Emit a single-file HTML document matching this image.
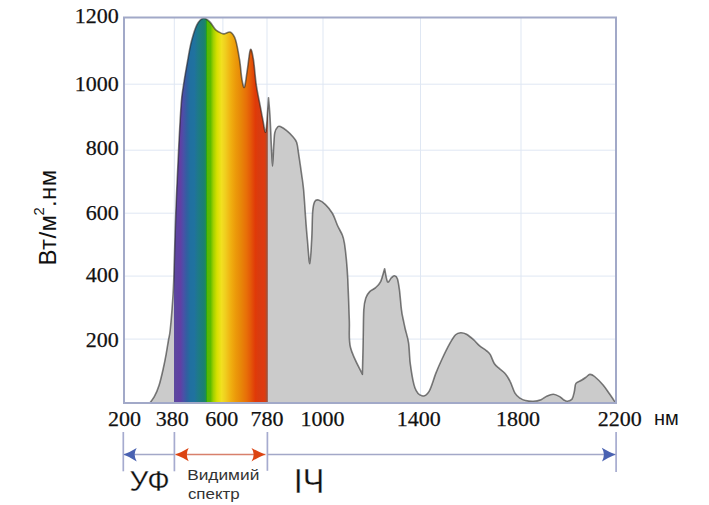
<!DOCTYPE html>
<html><head><meta charset="utf-8">
<style>
html,body{margin:0;padding:0;background:#fff;}
body{width:709px;height:505px;overflow:hidden;position:relative;}
svg{position:absolute;left:0;top:0;display:block;}
.serif{font-family:"Liberation Serif",serif;font-size:22px;fill:#111;stroke:#111;stroke-width:0.25px;}
.sans{font-family:"Liberation Sans",sans-serif;fill:#111;}
</style></head><body>
<svg width="709" height="505" viewBox="0 0 709 505">
<defs>
<linearGradient id="spec" x1="174" y1="0" x2="268" y2="0" gradientUnits="userSpaceOnUse"><stop offset="0.0000" stop-color="#5c4a9c"/><stop offset="0.0319" stop-color="#5e44a2"/><stop offset="0.0691" stop-color="#6040a4"/><stop offset="0.1011" stop-color="#4a50a8"/><stop offset="0.1383" stop-color="#3060a0"/><stop offset="0.1755" stop-color="#2070a0"/><stop offset="0.2160" stop-color="#2072a0"/><stop offset="0.2553" stop-color="#1e7a88"/><stop offset="0.3170" stop-color="#1a8070"/><stop offset="0.3383" stop-color="#208a58"/><stop offset="0.3447" stop-color="#20a020"/><stop offset="0.3553" stop-color="#58b800"/><stop offset="0.3883" stop-color="#5cbc00"/><stop offset="0.4181" stop-color="#a0d000"/><stop offset="0.4574" stop-color="#d8e000"/><stop offset="0.5053" stop-color="#f2e020"/><stop offset="0.5426" stop-color="#f0d020"/><stop offset="0.6032" stop-color="#f0b010"/><stop offset="0.6553" stop-color="#ec9a0a"/><stop offset="0.7085" stop-color="#e88808"/><stop offset="0.7681" stop-color="#e87008"/><stop offset="0.8128" stop-color="#e45a08"/><stop offset="0.8660" stop-color="#e03a08"/><stop offset="0.9032" stop-color="#d83c10"/><stop offset="0.9479" stop-color="#e03a10"/><stop offset="0.9691" stop-color="#d84010"/><stop offset="0.9840" stop-color="#b04a30"/><stop offset="1.0000" stop-color="#a07868"/></linearGradient>
<clipPath id="clipspec"><rect x="174" y="0" width="94" height="404"/></clipPath>

</defs>
<g stroke="#dfe7f3" stroke-width="1" fill="none"><line x1="174.3" y1="17.5" x2="174.3" y2="403" /><line x1="222.9" y1="17.5" x2="222.9" y2="403" /><line x1="267.0" y1="17.5" x2="267.0" y2="403" /><line x1="323.0" y1="17.5" x2="323.0" y2="403" /><line x1="420.5" y1="17.5" x2="420.5" y2="403" /><line x1="521.0" y1="17.5" x2="521.0" y2="403" /><line x1="124" y1="84.2" x2="616" y2="84.2" /><line x1="124" y1="150.2" x2="616" y2="150.2" /><line x1="124" y1="213.2" x2="616" y2="213.2" /><line x1="124" y1="276.1" x2="616" y2="276.1" /><line x1="124" y1="339.1" x2="616" y2="339.1" /></g>
<path d="M149.5,403.3 C150.3,402.2 152.7,399.6 154.3,396.7 C155.9,393.8 157.6,390.1 159.0,385.6 C160.4,381.1 161.8,375.0 163.0,369.7 C164.2,364.4 165.3,358.8 166.2,353.8 C167.1,348.8 167.9,343.5 168.6,339.5 C169.3,335.5 169.5,336.6 170.2,330.0 C170.9,323.4 172.1,309.0 172.7,300.0 C173.3,291.0 173.4,290.5 173.9,276.0 C174.4,261.5 175.0,234.0 175.8,213.0 C176.6,192.0 177.7,168.2 178.6,150.0 C179.5,131.8 180.4,114.9 181.2,104.0 C182.0,93.1 182.5,92.1 183.6,84.5 C184.7,76.9 186.7,65.9 188.0,58.6 C189.3,51.3 190.1,46.4 191.6,40.8 C193.1,35.1 195.1,28.5 197.0,24.7 C198.9,20.9 201.2,18.7 203.3,18.2 C205.4,17.7 207.7,20.0 209.8,21.9 C211.9,23.8 213.7,27.9 215.7,29.8 C217.7,31.7 220.2,32.7 221.7,33.4 C223.2,34.1 223.2,34.0 224.7,33.8 C226.2,33.6 228.8,31.2 230.6,32.2 C232.4,33.2 234.0,35.2 235.5,39.7 C237.0,44.2 238.4,52.9 239.5,59.5 C240.6,66.1 241.1,74.7 241.9,79.3 C242.7,83.9 243.6,88.8 244.5,87.2 C245.4,85.6 246.4,75.7 247.4,69.4 C248.4,63.1 249.4,51.2 250.4,49.6 C251.4,48.0 252.4,53.6 253.4,59.5 C254.4,65.4 255.2,77.8 256.3,85.2 C257.4,92.6 258.7,98.1 259.8,103.8 C260.9,109.5 261.8,115.0 262.8,119.6 C263.8,124.2 264.9,135.2 265.9,131.6 C266.8,128.0 268.1,103.5 268.5,97.9 C268.7,100.7 269.4,107.0 269.9,114.8 C270.4,122.6 270.9,135.9 271.3,144.5 C271.7,153.1 272.1,166.3 272.5,166.3 C272.9,166.3 273.4,150.1 273.8,144.5 C274.2,138.9 274.1,135.6 274.8,132.6 C275.5,129.6 276.8,127.7 277.8,126.7 C278.8,125.7 279.3,126.1 280.8,126.7 C282.3,127.3 284.7,128.9 286.7,130.6 C288.7,132.2 291.0,134.6 292.7,136.6 C294.4,138.6 295.7,139.5 296.7,142.5 C297.7,145.5 297.9,149.1 298.7,154.4 C299.5,159.7 300.8,168.4 301.6,174.3 C302.4,180.2 302.9,182.2 303.6,189.7 C304.3,197.2 305.1,211.0 305.7,219.4 C306.3,227.8 306.7,232.6 307.4,240.0 C308.1,247.4 309.1,263.9 309.8,263.8 C310.5,263.7 311.2,247.9 311.7,239.2 C312.2,230.5 312.2,217.8 312.7,211.5 C313.2,205.2 313.7,203.5 314.7,201.6 C315.7,199.7 316.8,199.5 318.6,200.0 C320.4,200.5 323.2,202.3 325.5,204.6 C327.8,206.8 330.5,210.1 332.5,213.5 C334.5,216.9 335.8,221.7 337.4,225.3 C339.0,228.9 341.2,232.2 342.4,235.2 C343.6,238.2 343.7,239.1 344.4,243.2 C345.1,247.3 345.8,253.7 346.4,259.8 C347.0,265.9 347.3,269.6 347.8,279.6 C348.3,289.6 348.9,308.5 349.3,319.8 C349.8,331.1 348.3,338.4 350.5,347.5 C352.7,356.6 360.4,369.8 362.4,374.3 C362.5,368.5 363.0,350.4 363.2,339.6 C363.4,328.9 363.4,316.8 363.8,309.8 C364.2,302.9 364.8,300.9 365.8,297.9 C366.8,294.9 368.1,293.3 369.7,291.6 C371.3,289.9 373.8,289.2 375.6,287.6 C377.4,286.0 379.1,284.8 380.6,281.7 C382.1,278.6 383.9,270.9 384.6,268.8 C385.1,270.9 386.4,280.2 387.5,281.7 C388.6,283.2 390.3,278.7 391.5,277.7 C392.7,276.7 393.5,275.5 394.5,275.7 C395.5,275.9 396.6,276.4 397.4,278.7 C398.2,281.0 398.7,284.5 399.4,289.6 C400.1,294.7 400.8,304.3 401.4,309.4 C402.0,314.5 402.6,316.7 403.3,320.0 C404.0,323.3 404.4,325.3 405.3,329.2 C406.2,333.1 407.8,337.3 408.6,343.2 C409.5,349.1 409.3,357.2 410.4,364.6 C411.4,372.0 413.0,382.5 414.9,387.7 C416.8,392.9 419.6,395.2 422.0,395.8 C424.4,396.4 426.8,395.0 429.1,391.3 C431.4,387.6 433.7,378.7 435.8,373.4 C437.9,368.1 439.5,364.4 441.8,359.5 C444.1,354.6 447.4,347.8 449.7,343.7 C452.0,339.6 453.8,336.6 455.6,334.8 C457.4,333.0 458.8,332.9 460.6,332.8 C462.4,332.7 464.4,333.1 466.5,334.2 C468.6,335.3 471.4,337.8 473.5,339.7 C475.6,341.6 477.3,343.8 479.4,345.6 C481.5,347.4 484.5,349.1 486.3,350.6 C488.1,352.1 489.0,352.5 490.3,354.6 C491.6,356.8 492.8,361.2 494.3,363.5 C495.8,365.8 497.4,366.8 499.2,368.4 C501.0,370.0 503.3,371.2 505.1,373.4 C506.9,375.5 508.5,378.0 510.1,381.3 C511.8,384.6 513.4,390.4 515.0,393.2 C516.6,396.0 518.2,396.9 520.0,398.1 C521.8,399.3 523.3,400.0 525.5,400.5 C527.7,401.0 530.7,401.4 533.3,401.3 C535.9,401.2 538.7,400.6 541.0,399.7 C543.3,398.8 545.1,396.8 547.2,395.9 C549.3,395.0 551.3,394.2 553.4,394.3 C555.5,394.4 558.0,395.7 559.7,396.6 C561.4,397.5 562.2,398.9 563.5,399.7 C564.8,400.5 566.0,401.4 567.4,401.3 C568.8,401.2 570.9,400.7 572.1,399.0 C573.3,397.3 573.8,393.8 574.4,391.2 C575.0,388.6 574.7,385.2 575.9,383.4 C577.1,381.6 579.7,381.3 581.4,380.3 C583.1,379.3 584.6,378.2 586.0,377.2 C587.4,376.2 588.5,374.5 589.9,374.4 C591.3,374.3 592.4,374.7 594.6,376.5 C596.8,378.3 600.7,382.2 603.1,385.0 C605.5,387.8 607.2,390.5 609.3,393.5 C611.4,396.5 614.5,401.2 615.5,402.8 L615.5,403 L149.5,403 Z" fill="#cbcbcb" />
<path d="M149.5,403.3 C150.3,402.2 152.7,399.6 154.3,396.7 C155.9,393.8 157.6,390.1 159.0,385.6 C160.4,381.1 161.8,375.0 163.0,369.7 C164.2,364.4 165.3,358.8 166.2,353.8 C167.1,348.8 167.9,343.5 168.6,339.5 C169.3,335.5 169.5,336.6 170.2,330.0 C170.9,323.4 172.1,309.0 172.7,300.0 C173.3,291.0 173.4,290.5 173.9,276.0 C174.4,261.5 175.0,234.0 175.8,213.0 C176.6,192.0 177.7,168.2 178.6,150.0 C179.5,131.8 180.4,114.9 181.2,104.0 C182.0,93.1 182.5,92.1 183.6,84.5 C184.7,76.9 186.7,65.9 188.0,58.6 C189.3,51.3 190.1,46.4 191.6,40.8 C193.1,35.1 195.1,28.5 197.0,24.7 C198.9,20.9 201.2,18.7 203.3,18.2 C205.4,17.7 207.7,20.0 209.8,21.9 C211.9,23.8 213.7,27.9 215.7,29.8 C217.7,31.7 220.2,32.7 221.7,33.4 C223.2,34.1 223.2,34.0 224.7,33.8 C226.2,33.6 228.8,31.2 230.6,32.2 C232.4,33.2 234.0,35.2 235.5,39.7 C237.0,44.2 238.4,52.9 239.5,59.5 C240.6,66.1 241.1,74.7 241.9,79.3 C242.7,83.9 243.6,88.8 244.5,87.2 C245.4,85.6 246.4,75.7 247.4,69.4 C248.4,63.1 249.4,51.2 250.4,49.6 C251.4,48.0 252.4,53.6 253.4,59.5 C254.4,65.4 255.2,77.8 256.3,85.2 C257.4,92.6 258.7,98.1 259.8,103.8 C260.9,109.5 261.8,115.0 262.8,119.6 C263.8,124.2 264.9,135.2 265.9,131.6 C266.8,128.0 268.1,103.5 268.5,97.9 C268.7,100.7 269.4,107.0 269.9,114.8 C270.4,122.6 270.9,135.9 271.3,144.5 C271.7,153.1 272.1,166.3 272.5,166.3 C272.9,166.3 273.4,150.1 273.8,144.5 C274.2,138.9 274.1,135.6 274.8,132.6 C275.5,129.6 276.8,127.7 277.8,126.7 C278.8,125.7 279.3,126.1 280.8,126.7 C282.3,127.3 284.7,128.9 286.7,130.6 C288.7,132.2 291.0,134.6 292.7,136.6 C294.4,138.6 295.7,139.5 296.7,142.5 C297.7,145.5 297.9,149.1 298.7,154.4 C299.5,159.7 300.8,168.4 301.6,174.3 C302.4,180.2 302.9,182.2 303.6,189.7 C304.3,197.2 305.1,211.0 305.7,219.4 C306.3,227.8 306.7,232.6 307.4,240.0 C308.1,247.4 309.1,263.9 309.8,263.8 C310.5,263.7 311.2,247.9 311.7,239.2 C312.2,230.5 312.2,217.8 312.7,211.5 C313.2,205.2 313.7,203.5 314.7,201.6 C315.7,199.7 316.8,199.5 318.6,200.0 C320.4,200.5 323.2,202.3 325.5,204.6 C327.8,206.8 330.5,210.1 332.5,213.5 C334.5,216.9 335.8,221.7 337.4,225.3 C339.0,228.9 341.2,232.2 342.4,235.2 C343.6,238.2 343.7,239.1 344.4,243.2 C345.1,247.3 345.8,253.7 346.4,259.8 C347.0,265.9 347.3,269.6 347.8,279.6 C348.3,289.6 348.9,308.5 349.3,319.8 C349.8,331.1 348.3,338.4 350.5,347.5 C352.7,356.6 360.4,369.8 362.4,374.3 C362.5,368.5 363.0,350.4 363.2,339.6 C363.4,328.9 363.4,316.8 363.8,309.8 C364.2,302.9 364.8,300.9 365.8,297.9 C366.8,294.9 368.1,293.3 369.7,291.6 C371.3,289.9 373.8,289.2 375.6,287.6 C377.4,286.0 379.1,284.8 380.6,281.7 C382.1,278.6 383.9,270.9 384.6,268.8 C385.1,270.9 386.4,280.2 387.5,281.7 C388.6,283.2 390.3,278.7 391.5,277.7 C392.7,276.7 393.5,275.5 394.5,275.7 C395.5,275.9 396.6,276.4 397.4,278.7 C398.2,281.0 398.7,284.5 399.4,289.6 C400.1,294.7 400.8,304.3 401.4,309.4 C402.0,314.5 402.6,316.7 403.3,320.0 C404.0,323.3 404.4,325.3 405.3,329.2 C406.2,333.1 407.8,337.3 408.6,343.2 C409.5,349.1 409.3,357.2 410.4,364.6 C411.4,372.0 413.0,382.5 414.9,387.7 C416.8,392.9 419.6,395.2 422.0,395.8 C424.4,396.4 426.8,395.0 429.1,391.3 C431.4,387.6 433.7,378.7 435.8,373.4 C437.9,368.1 439.5,364.4 441.8,359.5 C444.1,354.6 447.4,347.8 449.7,343.7 C452.0,339.6 453.8,336.6 455.6,334.8 C457.4,333.0 458.8,332.9 460.6,332.8 C462.4,332.7 464.4,333.1 466.5,334.2 C468.6,335.3 471.4,337.8 473.5,339.7 C475.6,341.6 477.3,343.8 479.4,345.6 C481.5,347.4 484.5,349.1 486.3,350.6 C488.1,352.1 489.0,352.5 490.3,354.6 C491.6,356.8 492.8,361.2 494.3,363.5 C495.8,365.8 497.4,366.8 499.2,368.4 C501.0,370.0 503.3,371.2 505.1,373.4 C506.9,375.5 508.5,378.0 510.1,381.3 C511.8,384.6 513.4,390.4 515.0,393.2 C516.6,396.0 518.2,396.9 520.0,398.1 C521.8,399.3 523.3,400.0 525.5,400.5 C527.7,401.0 530.7,401.4 533.3,401.3 C535.9,401.2 538.7,400.6 541.0,399.7 C543.3,398.8 545.1,396.8 547.2,395.9 C549.3,395.0 551.3,394.2 553.4,394.3 C555.5,394.4 558.0,395.7 559.7,396.6 C561.4,397.5 562.2,398.9 563.5,399.7 C564.8,400.5 566.0,401.4 567.4,401.3 C568.8,401.2 570.9,400.7 572.1,399.0 C573.3,397.3 573.8,393.8 574.4,391.2 C575.0,388.6 574.7,385.2 575.9,383.4 C577.1,381.6 579.7,381.3 581.4,380.3 C583.1,379.3 584.6,378.2 586.0,377.2 C587.4,376.2 588.5,374.5 589.9,374.4 C591.3,374.3 592.4,374.7 594.6,376.5 C596.8,378.3 600.7,382.2 603.1,385.0 C605.5,387.8 607.2,390.5 609.3,393.5 C611.4,396.5 614.5,401.2 615.5,402.8 L615.5,403 L149.5,403 Z" fill="url(#spec)" clip-path="url(#clipspec)" />
<path d="M149.5,403.3 C150.3,402.2 152.7,399.6 154.3,396.7 C155.9,393.8 157.6,390.1 159.0,385.6 C160.4,381.1 161.8,375.0 163.0,369.7 C164.2,364.4 165.3,358.8 166.2,353.8 C167.1,348.8 167.9,343.5 168.6,339.5 C169.3,335.5 169.5,336.6 170.2,330.0 C170.9,323.4 172.1,309.0 172.7,300.0 C173.3,291.0 173.4,290.5 173.9,276.0 C174.4,261.5 175.0,234.0 175.8,213.0 C176.6,192.0 177.7,168.2 178.6,150.0 C179.5,131.8 180.4,114.9 181.2,104.0 C182.0,93.1 182.5,92.1 183.6,84.5 C184.7,76.9 186.7,65.9 188.0,58.6 C189.3,51.3 190.1,46.4 191.6,40.8 C193.1,35.1 195.1,28.5 197.0,24.7 C198.9,20.9 201.2,18.7 203.3,18.2 C205.4,17.7 207.7,20.0 209.8,21.9 C211.9,23.8 213.7,27.9 215.7,29.8 C217.7,31.7 220.2,32.7 221.7,33.4 C223.2,34.1 223.2,34.0 224.7,33.8 C226.2,33.6 228.8,31.2 230.6,32.2 C232.4,33.2 234.0,35.2 235.5,39.7 C237.0,44.2 238.4,52.9 239.5,59.5 C240.6,66.1 241.1,74.7 241.9,79.3 C242.7,83.9 243.6,88.8 244.5,87.2 C245.4,85.6 246.4,75.7 247.4,69.4 C248.4,63.1 249.4,51.2 250.4,49.6 C251.4,48.0 252.4,53.6 253.4,59.5 C254.4,65.4 255.2,77.8 256.3,85.2 C257.4,92.6 258.7,98.1 259.8,103.8 C260.9,109.5 261.8,115.0 262.8,119.6 C263.8,124.2 264.9,135.2 265.9,131.6 C266.8,128.0 268.1,103.5 268.5,97.9 C268.7,100.7 269.4,107.0 269.9,114.8 C270.4,122.6 270.9,135.9 271.3,144.5 C271.7,153.1 272.1,166.3 272.5,166.3 C272.9,166.3 273.4,150.1 273.8,144.5 C274.2,138.9 274.1,135.6 274.8,132.6 C275.5,129.6 276.8,127.7 277.8,126.7 C278.8,125.7 279.3,126.1 280.8,126.7 C282.3,127.3 284.7,128.9 286.7,130.6 C288.7,132.2 291.0,134.6 292.7,136.6 C294.4,138.6 295.7,139.5 296.7,142.5 C297.7,145.5 297.9,149.1 298.7,154.4 C299.5,159.7 300.8,168.4 301.6,174.3 C302.4,180.2 302.9,182.2 303.6,189.7 C304.3,197.2 305.1,211.0 305.7,219.4 C306.3,227.8 306.7,232.6 307.4,240.0 C308.1,247.4 309.1,263.9 309.8,263.8 C310.5,263.7 311.2,247.9 311.7,239.2 C312.2,230.5 312.2,217.8 312.7,211.5 C313.2,205.2 313.7,203.5 314.7,201.6 C315.7,199.7 316.8,199.5 318.6,200.0 C320.4,200.5 323.2,202.3 325.5,204.6 C327.8,206.8 330.5,210.1 332.5,213.5 C334.5,216.9 335.8,221.7 337.4,225.3 C339.0,228.9 341.2,232.2 342.4,235.2 C343.6,238.2 343.7,239.1 344.4,243.2 C345.1,247.3 345.8,253.7 346.4,259.8 C347.0,265.9 347.3,269.6 347.8,279.6 C348.3,289.6 348.9,308.5 349.3,319.8 C349.8,331.1 348.3,338.4 350.5,347.5 C352.7,356.6 360.4,369.8 362.4,374.3 C362.5,368.5 363.0,350.4 363.2,339.6 C363.4,328.9 363.4,316.8 363.8,309.8 C364.2,302.9 364.8,300.9 365.8,297.9 C366.8,294.9 368.1,293.3 369.7,291.6 C371.3,289.9 373.8,289.2 375.6,287.6 C377.4,286.0 379.1,284.8 380.6,281.7 C382.1,278.6 383.9,270.9 384.6,268.8 C385.1,270.9 386.4,280.2 387.5,281.7 C388.6,283.2 390.3,278.7 391.5,277.7 C392.7,276.7 393.5,275.5 394.5,275.7 C395.5,275.9 396.6,276.4 397.4,278.7 C398.2,281.0 398.7,284.5 399.4,289.6 C400.1,294.7 400.8,304.3 401.4,309.4 C402.0,314.5 402.6,316.7 403.3,320.0 C404.0,323.3 404.4,325.3 405.3,329.2 C406.2,333.1 407.8,337.3 408.6,343.2 C409.5,349.1 409.3,357.2 410.4,364.6 C411.4,372.0 413.0,382.5 414.9,387.7 C416.8,392.9 419.6,395.2 422.0,395.8 C424.4,396.4 426.8,395.0 429.1,391.3 C431.4,387.6 433.7,378.7 435.8,373.4 C437.9,368.1 439.5,364.4 441.8,359.5 C444.1,354.6 447.4,347.8 449.7,343.7 C452.0,339.6 453.8,336.6 455.6,334.8 C457.4,333.0 458.8,332.9 460.6,332.8 C462.4,332.7 464.4,333.1 466.5,334.2 C468.6,335.3 471.4,337.8 473.5,339.7 C475.6,341.6 477.3,343.8 479.4,345.6 C481.5,347.4 484.5,349.1 486.3,350.6 C488.1,352.1 489.0,352.5 490.3,354.6 C491.6,356.8 492.8,361.2 494.3,363.5 C495.8,365.8 497.4,366.8 499.2,368.4 C501.0,370.0 503.3,371.2 505.1,373.4 C506.9,375.5 508.5,378.0 510.1,381.3 C511.8,384.6 513.4,390.4 515.0,393.2 C516.6,396.0 518.2,396.9 520.0,398.1 C521.8,399.3 523.3,400.0 525.5,400.5 C527.7,401.0 530.7,401.4 533.3,401.3 C535.9,401.2 538.7,400.6 541.0,399.7 C543.3,398.8 545.1,396.8 547.2,395.9 C549.3,395.0 551.3,394.2 553.4,394.3 C555.5,394.4 558.0,395.7 559.7,396.6 C561.4,397.5 562.2,398.9 563.5,399.7 C564.8,400.5 566.0,401.4 567.4,401.3 C568.8,401.2 570.9,400.7 572.1,399.0 C573.3,397.3 573.8,393.8 574.4,391.2 C575.0,388.6 574.7,385.2 575.9,383.4 C577.1,381.6 579.7,381.3 581.4,380.3 C583.1,379.3 584.6,378.2 586.0,377.2 C587.4,376.2 588.5,374.5 589.9,374.4 C591.3,374.3 592.4,374.7 594.6,376.5 C596.8,378.3 600.7,382.2 603.1,385.0 C605.5,387.8 607.2,390.5 609.3,393.5 C611.4,396.5 614.5,401.2 615.5,402.8" fill="none" stroke="rgba(35,35,35,0.58)" stroke-width="1.6" stroke-linejoin="round"/>
<rect x="124" y="17.5" width="492" height="385.5" fill="none" stroke="#a2a9c8" stroke-width="2"/>
<g class="serif" text-anchor="end"><text x="118.8" y="23.0">1200</text><text x="118.8" y="90.7">1000</text><text x="118.8" y="155.0">800</text><text x="118.8" y="219.5">600</text><text x="118.8" y="282.3">400</text><text x="118.8" y="347.0">200</text></g>
<g class="serif" text-anchor="middle"><text x="124.5" y="426">200</text><text x="172.2" y="426">380</text><text x="221.7" y="426">600</text><text x="266.9" y="426">780</text><text x="322.4" y="426">1000</text><text x="418.8" y="426">1400</text><text x="518.0" y="426">1800</text><text x="619.7" y="426">2200</text></g>
<text class="sans" x="654" y="424.6" font-size="20">нм</text>
<text class="sans" transform="translate(55.9,265.5) rotate(-90)" font-size="24" letter-spacing="0.35">Вт/м<tspan font-size="14.8" dy="-11.9" dx="-0.8">2</tspan><tspan dy="11.9" dx="0">.нм</tspan></text>
<g stroke="#a6abcf" stroke-width="1.7">
<line x1="123.3" y1="432" x2="123.3" y2="471.3"/>
<line x1="174.4" y1="432" x2="174.4" y2="471.3"/>
<line x1="267.4" y1="432" x2="267.4" y2="470.8"/>
<line x1="616.1" y1="432" x2="616.1" y2="472"/>
</g>
<line x1="124" y1="454.5" x2="174.4" y2="454.5" stroke="#a3a8c8" stroke-width="1.7"/>
<line x1="267.4" y1="454.5" x2="616" y2="454.5" stroke="#a3a8c8" stroke-width="1.7"/>
<line x1="175.5" y1="454.5" x2="265.5" y2="454.5" stroke="#d8806c" stroke-width="1.7"/>
<path d="M123.5,454.5 Q130,452 136.7,447.9 Q134.8,451 134.6,454.5 Q134.8,458 136.7,461.4 Q130,457 123.5,454.5 Z" fill="#4a62b2"/>
<path d="M615.5,454.4 Q609,452 601.8,447.7 Q603.8,451 603.9,454.4 Q603.8,458 602,461.6 Q609,457 615.5,454.4 Z" fill="#4a62b2"/>
<path d="M175.2,454.4 Q182,452 188.7,447.9 Q186.9,451 186.8,454.4 Q186.9,458 188.7,461.3 Q182,457 175.2,454.4 Z" fill="#dc4412"/>
<path d="M265.2,454.4 Q258.5,452 251.5,447.9 Q253.6,451 253.7,454.4 Q253.6,458 251.5,461.6 Q258.5,457 265.2,454.4 Z" fill="#dc4412"/>
<text class="sans" x="129.4" y="491.4" font-size="30" textLength="40.3" lengthAdjust="spacingAndGlyphs" stroke="#fff" stroke-width="0.3">УФ</text>
<text class="sans" x="293.8" y="492.7" font-size="34.5" textLength="30.5" lengthAdjust="spacingAndGlyphs" stroke="#fff" stroke-width="0.35">ІЧ</text>
<text class="sans" x="187.2" y="480.3" font-size="15.3" style="fill:#333" textLength="72.1" lengthAdjust="spacingAndGlyphs">Видимий</text>
<text class="sans" x="187.9" y="498.7" font-size="15.3" style="fill:#333" textLength="51.8" lengthAdjust="spacingAndGlyphs">спектр</text>
</svg>
</body></html>
